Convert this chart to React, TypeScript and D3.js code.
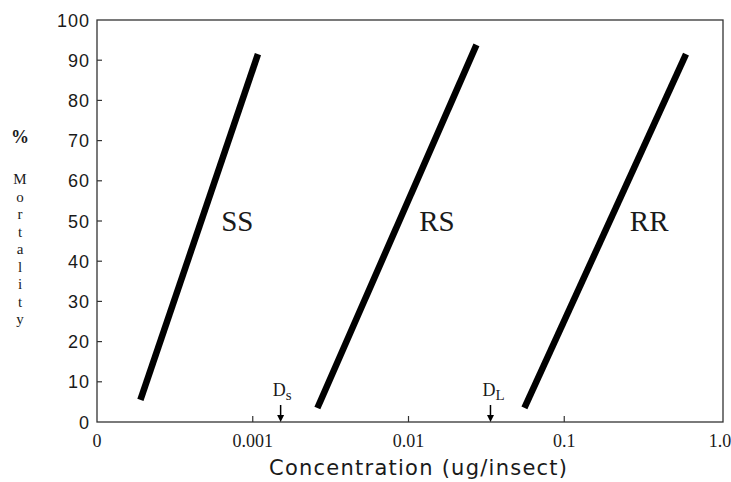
import { useEffect, useRef } from 'react'
import * as d3 from 'd3'

const genotypes = ['SS', 'RS', 'RR']
const lowConc = [0.00019, 0.0026, 0.0555]
const highConc = [0.00108, 0.0273, 0.605]
const lowMort = [5.5, 3.5, 3.5]
const highMort = [91.5, 93.8, 91.5]

const doseNames = ['s', 'L']
const doseConc = [0.00151, 0.0336]

const xTicks = [0.0001, 0.001, 0.01, 0.1, 1]
const xTickLabels = ['0', '0.001', '0.01', '0.1', '1.0']
const yTicks = [0, 10, 20, 30, 40, 50, 60, 70, 80, 90, 100]
const yTitle = ['M', 'o', 'r', 't', 'a', 'l', 'i', 't', 'y']

export default function App() {
  const ref = useRef<SVGSVGElement>(null)

  useEffect(() => {
    if (!ref.current) return
    const svg = d3.select(ref.current)
    svg.selectAll('*').remove()

    const x = d3.scaleLog().domain([0.0001, 1]).range([97, 720])
    const y = d3.scaleLinear().domain([0, 100]).range([422, 20])
    const left = 97
    const right = 723
    const ink = '#1a1a1a'

    // frame
    svg.append('rect')
      .attr('x', left).attr('y', y(100))
      .attr('width', right - left).attr('height', y(0) - y(100))
      .attr('fill', 'none').attr('stroke', '#333').attr('stroke-width', 1.3)

    // y ticks + labels
    yTicks.forEach((t) => {
      if (t > 0 && t < 100) {
        svg.append('line')
          .attr('x1', left).attr('x2', left + 5)
          .attr('y1', y(t)).attr('y2', y(t))
          .attr('stroke', '#333').attr('stroke-width', 1.2)
      }
      svg.append('text')
        .attr('x', 90).attr('y', y(t) + 6.5)
        .attr('text-anchor', 'end')
        .attr('font-family', 'Liberation Sans, Arial, sans-serif')
        .attr('font-size', 18)
        .attr('letter-spacing', 1)
        .attr('fill', ink)
        .text(t)
    })

    // x ticks + labels
    xTicks.forEach((t, i) => {
      if (i > 0 && i < xTicks.length - 1) {
        svg.append('line')
          .attr('x1', x(t)).attr('x2', x(t))
          .attr('y1', y(0)).attr('y2', y(0) - 6)
          .attr('stroke', '#333').attr('stroke-width', 1.2)
      }
      svg.append('text')
        .attr('x', x(t)).attr('y', 447)
        .attr('text-anchor', 'middle')
        .attr('font-family', 'Liberation Serif, serif')
        .attr('font-size', 18)
        .attr('fill', ink)
        .text(xTickLabels[i])
    })

    // dose-response lines
    genotypes.forEach((g, i) => {
      svg.append('line')
        .attr('x1', x(lowConc[i])).attr('y1', y(lowMort[i]))
        .attr('x2', x(highConc[i])).attr('y2', y(highMort[i]))
        .attr('stroke', '#000').attr('stroke-width', 6.5)

      // label next to the line at 50 % mortality
      const f = (50 - lowMort[i]) / (highMort[i] - lowMort[i])
      const lx = x(lowConc[i]) + f * (x(highConc[i]) - x(lowConc[i]))
      svg.append('text')
        .attr('x', lx + 20).attr('y', y(50) + 10)
        .attr('font-family', 'Liberation Serif, serif')
        .attr('font-size', 29)
        .attr('fill', ink)
        .text(g)
    })

    // discriminating dose arrows
    doseConc.forEach((c, i) => {
      const ax = x(c)
      svg.append('line')
        .attr('x1', ax).attr('x2', ax)
        .attr('y1', y(0) - 17).attr('y2', y(0) - 5)
        .attr('stroke', '#000').attr('stroke-width', 1.5)
      svg.append('path')
        .attr('d', `M${ax - 3.5},${y(0) - 7} L${ax + 3.5},${y(0) - 7} L${ax},${y(0)} Z`)
        .attr('fill', '#000')
      const t = svg.append('text')
        .attr('x', ax - 8).attr('y', y(0) - 26)
        .attr('font-family', 'Liberation Serif, serif')
        .attr('font-size', 18)
        .attr('fill', ink)
      t.append('tspan').text('D')
      t.append('tspan').attr('dy', 4).attr('font-size', 15).text(doseNames[i])
    })

    // axis titles
    svg.append('text')
      .attr('x', 418).attr('y', 475)
      .attr('text-anchor', 'middle')
      .attr('font-family', 'DejaVu Sans, sans-serif')
      .attr('font-size', 21)
      .attr('textLength', 298)
      .attr('lengthAdjust', 'spacing')
      .attr('fill', ink)
      .text('Concentration (ug/insect)')

    svg.append('text')
      .attr('x', 20).attr('y', 143)
      .attr('text-anchor', 'middle')
      .attr('font-family', 'Liberation Serif, serif')
      .attr('font-size', 18)
      .attr('font-weight', 'bold')
      .attr('fill', ink)
      .text('%')
    yTitle.forEach((ch, i) => {
      svg.append('text')
        .attr('x', 20).attr('y', 184 + i * 17.5)
        .attr('text-anchor', 'middle')
        .attr('font-family', 'Liberation Serif, serif')
        .attr('font-size', 15)
        .attr('fill', ink)
        .text(ch)
    })
  }, [])

  return (
    <svg
      ref={ref}
      width={731}
      height={482}
      style={{ position: 'absolute', left: 0, top: 0, background: '#fff' }}
    />
  )
}
